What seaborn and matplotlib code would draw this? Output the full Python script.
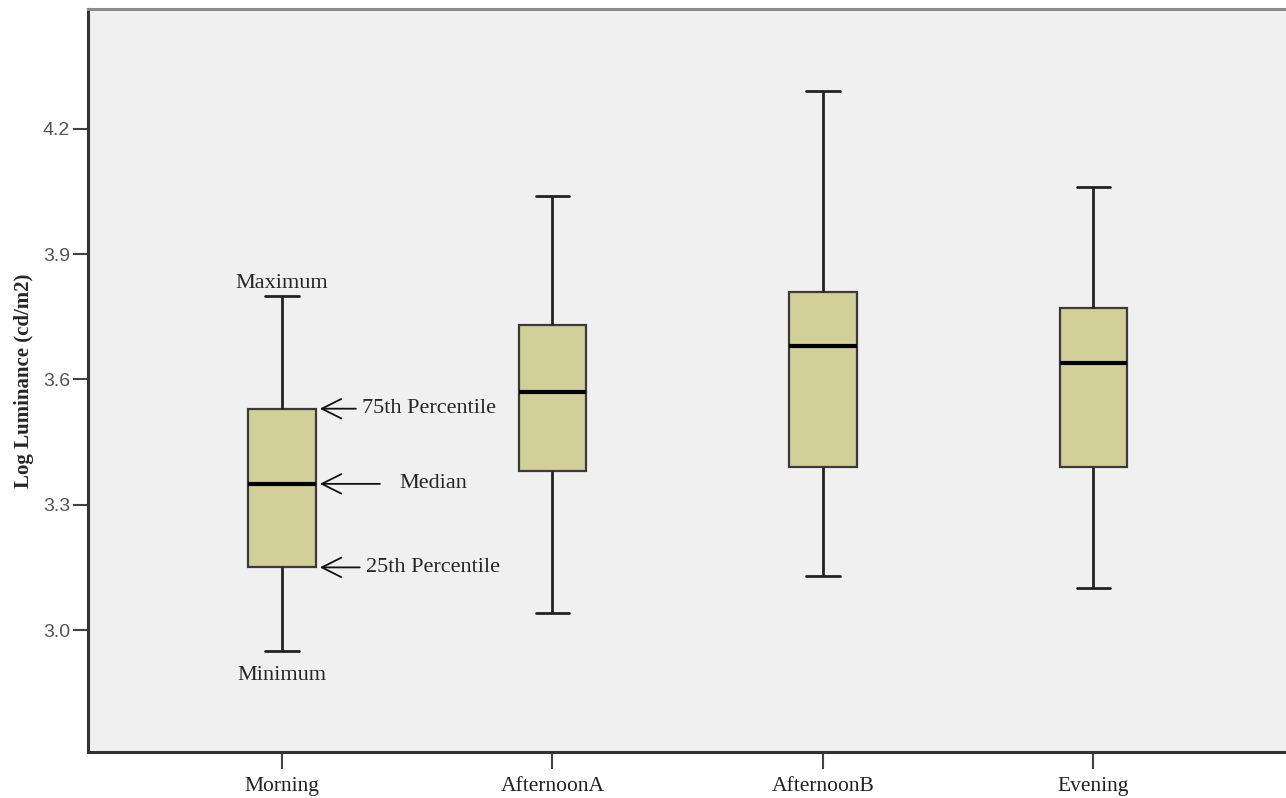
import numpy as np
import pandas as pd
import matplotlib
matplotlib.use("Agg")
import matplotlib.pyplot as plt
import seaborn as sns

# five-number summaries (min, Q1, median, Q3, max)
periods = ["Morning", "AfternoonA", "AfternoonB", "Evening"]
morning = [2.95, 3.15, 3.35, 3.53, 3.80]
afternoon_a = [3.04, 3.38, 3.57, 3.73, 4.04]
afternoon_b = [3.13, 3.39, 3.68, 3.81, 4.29]
evening = [3.10, 3.39, 3.64, 3.77, 4.06]
y_ticks = [3.0, 3.3, 3.6, 3.9, 4.2]

df = pd.DataFrame({
    "period": np.repeat(periods, 5),
    "value": morning + afternoon_a + afternoon_b + evening,
})

sns.set_style("white")
plt.rcParams["font.family"] = ["Liberation Serif", "DejaVu Serif"]

fig = plt.figure(figsize=(12.86, 7.98), dpi=100)
ax = fig.add_axes([88 / 1286, 46 / 798, 1 - 88 / 1286, 743 / 798])
ax.set_facecolor("#f0f0f0")

sns.boxplot(data=df, x="period", y="value", order=periods, ax=ax,
            whis=(0, 100), width=0.25, color="#d3cf98", saturation=1,
            linecolor="#3a3a3a", linewidth=1.6,
            medianprops=dict(color="black", linewidth=3),
            whiskerprops=dict(color="#222222", linewidth=2),
            capprops=dict(color="#222222", linewidth=2))

ax.set_xlim(-0.717, 3.712)
ax.set_ylim(2.708, 4.487)
ax.set_yticks(y_ticks)
ax.set_yticklabels([f"{t:.1f}" for t in y_ticks], family="Liberation Sans",
                   fontsize=14, color="#555555")
ax.set_xticks(range(len(periods)))
ax.set_xticklabels(periods, fontsize=15.5, color="#222222")
ax.tick_params(axis="y", left=True, length=11, width=1.5, color="#444444", pad=2)
ax.tick_params(axis="x", bottom=True, length=12, width=1.5, color="#444444", pad=6)
ax.set_xlabel("")
ax.set_ylabel("Log Luminance (cd/m2)", fontsize=15, fontweight="bold",
              labelpad=6)

for side in ["left", "bottom"]:
    ax.spines[side].set_color("#333333")
    ax.spines[side].set_linewidth(2.2)
ax.spines["top"].set_color("#8a8a8a")
ax.spines["top"].set_linewidth(2.2)
ax.spines["right"].set_visible(False)

# labels on the Morning box
mn, q1, med, q3, mx = morning
ax.text(0, mx + 0.008, "Maximum", ha="center", va="bottom", fontsize=16)
ax.text(0, mn - 0.035, "Minimum", ha="center", va="top", fontsize=16)
arrow = dict(arrowstyle="->, head_length=0.7, head_width=0.35",
             color="#111111", lw=1.3, mutation_scale=20, shrinkB=0)
ax.annotate("75th Percentile", xy=(0.14, q3), xytext=(0.296, q3),
            ha="left", va="center", fontsize=16,
            arrowprops=dict(arrow, shrinkA=2))
ax.annotate("Median", xy=(0.14, med), xytext=(0.436, med),
            ha="left", va="center", fontsize=16,
            arrowprops=dict(arrow, shrinkA=12))
ax.annotate("25th Percentile", xy=(0.14, q1), xytext=(0.31, q1),
            ha="left", va="center", fontsize=16,
            arrowprops=dict(arrow, shrinkA=2))

fig.savefig("out.png", dpi=100, facecolor="white")
